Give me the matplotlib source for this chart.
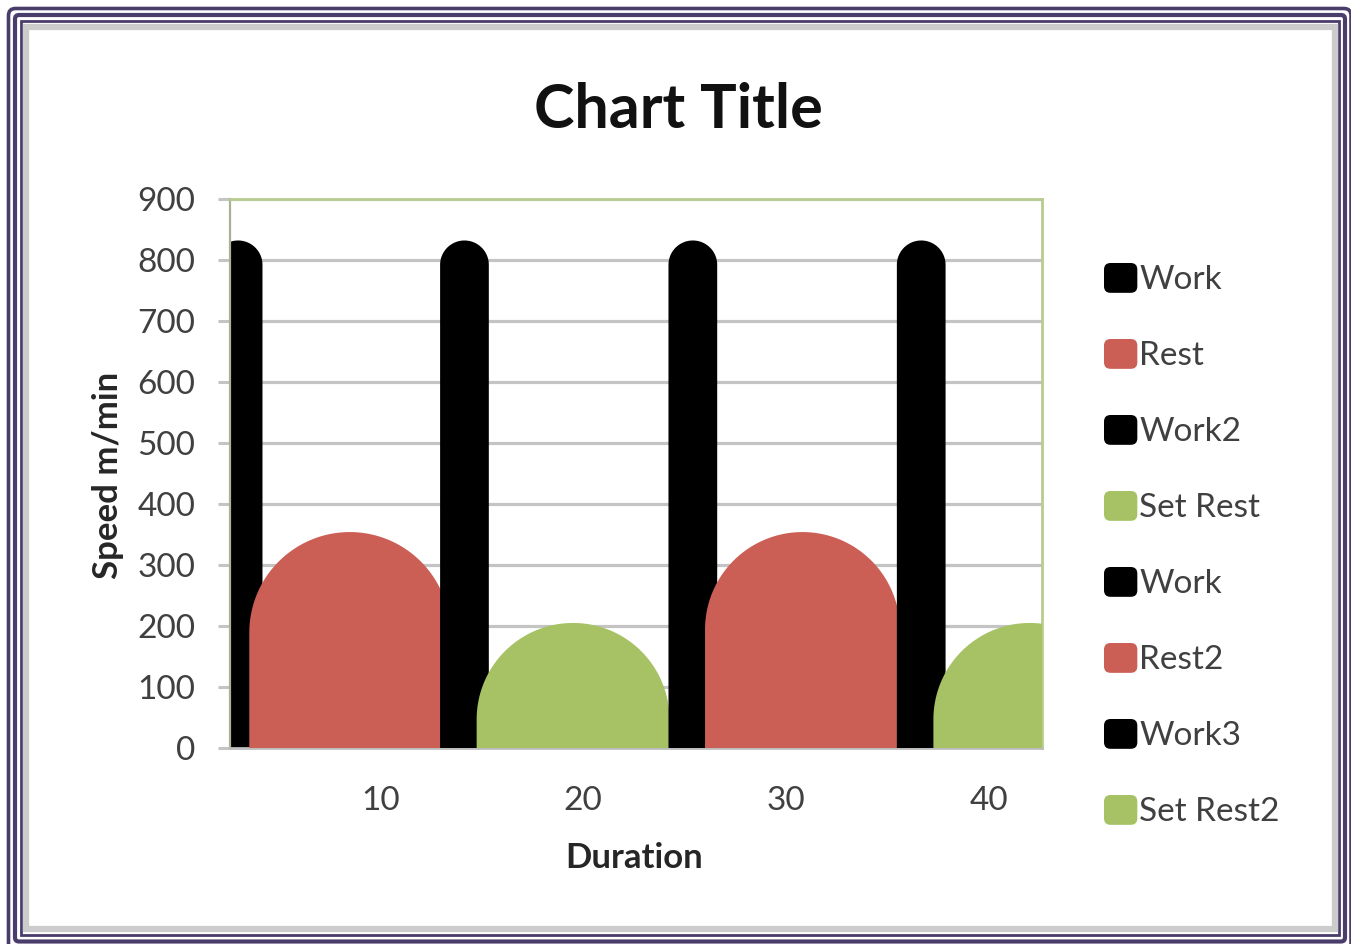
import numpy as np
import matplotlib
matplotlib.use("Agg")
import matplotlib.pyplot as plt
from matplotlib.patches import Patch, FancyBboxPatch, Rectangle
from matplotlib.legend_handler import HandlerPatch

# ---- data ----
series = ["Work", "Rest", "Work2", "Set Rest", "Work", "Rest2", "Work3", "Set Rest2"]
mid_time = [3.0, 8.5, 14.15, 19.5, 25.4, 30.8, 36.65, 42.0]
duration = [2.4, 9.9, 2.4, 9.5, 2.4, 9.6, 2.4, 9.5]
speed = [832, 354, 832, 205, 832, 354, 832, 205]
x_ticks = [10, 20, 30, 40]
y_ticks = [0, 100, 200, 300, 400, 500, 600, 700, 800, 900]

BLACK, RED, GREEN = "#000000", "#CB5E55", "#A6C264"
colors = [BLACK, RED, BLACK, GREEN, BLACK, RED, BLACK, GREEN]

FONT = ["Lato", "DejaVu Sans"]
plt.rcParams["font.family"] = FONT

W, H = 1351, 944
fig = plt.figure(figsize=(W / 100, H / 100), dpi=100)

# ---- background frame (pixel coordinates) ----
bg = fig.add_axes([0, 0, 1, 1], zorder=0)
bg.set_xlim(0, W)
bg.set_ylim(H, 0)
bg.axis("off")
PURPLE = "#4b3d6b"
bg.add_patch(FancyBboxPatch((8.5, 8.5), W - 8.5, H + 6 - 8.5,
                            boxstyle="round,pad=0,rounding_size=7",
                            fc="white", ec=PURPLE, lw=2.6))
bg.add_patch(FancyBboxPatch((15, 15), 1345 - 15, 941.5 - 15,
                            boxstyle="round,pad=0,rounding_size=4",
                            fc="white", ec=PURPLE, lw=3.0))
bg.add_patch(Rectangle((21, 21), 1338.5 - 21, 935 - 21, fc="white", ec=PURPLE, lw=2.0))
bg.add_patch(Rectangle((26, 26.5), 1334.5 - 26, 928.5 - 26.5, fc="white", ec="#cccccc", lw=4.5))

# ---- main axes ----
ax = fig.add_axes([230 / W, 1 - 748 / H, 812 / W, 549 / H], zorder=1)
ax.set_facecolor("white")
ax.set_xlim(2.6, 42.6)
ax.set_ylim(0, 900)

bbox = ax.get_window_extent()
sx = bbox.width / (42.6 - 2.6)
sy = bbox.height / 900.0

theta = np.linspace(0, np.pi, 90)
for i, (c, d, s, col) in enumerate(zip(mid_time, duration, speed, colors)):
    half = d / 2.0
    r_y = half * sx / sy
    base = s - r_y
    xs = np.concatenate([[c + half], c + half * np.cos(theta), [c - half]])
    ys = np.concatenate([[-100], base + r_y * np.sin(theta), [-100]])
    ax.fill(xs, ys, color=col, lw=0, zorder=2 + i)

ax.set_yticks(y_ticks)
ax.set_xticks(x_ticks)
ax.set_axisbelow(True)
ax.yaxis.grid(True, color="#c4c4c4", lw=2.3)
ax.xaxis.grid(False)

for side in ["top", "right"]:
    ax.spines[side].set_color("#b9cc90")
    ax.spines[side].set_linewidth(2.0)
ax.spines["left"].set_color("#a9b394")
ax.spines["left"].set_linewidth(1.6)
ax.spines["bottom"].set_color("#bdbdbd")
ax.spines["bottom"].set_linewidth(2.0)

ax.tick_params(axis="y", length=9, width=2.2, color="#c4c4c4", pad=16,
               labelsize=24, labelcolor="#404040")
ax.tick_params(axis="x", length=0, pad=27, labelsize=24, labelcolor="#404040")

# ---- texts ----
fig.text(678 / W, 1 - 110 / H, "Chart Title", ha="center", va="center",
         fontsize=44, fontweight="bold", color="#111111")
fig.text(108 / W, 1 - 475 / H, "Speed m/min", ha="center", va="center",
         rotation=90, fontsize=25, fontweight="bold", color="#262626")
fig.text(634 / W, 1 - 858 / H, "Duration", ha="center", va="center",
         fontsize=25, fontweight="bold", color="#262626")


# ---- legend ----
class RoundHandler(HandlerPatch):
    def create_artists(self, legend, orig_handle, xdescent, ydescent,
                       width, height, fontsize, trans):
        p = FancyBboxPatch((-xdescent, -ydescent), width, height,
                           boxstyle="round,pad=0,rounding_size=%f" % (height * 0.22),
                           fc=orig_handle.get_facecolor(), ec="none", transform=trans)
        return [p]


handles = [Patch(facecolor=col, edgecolor=col) for col in colors]
leg = fig.legend(handles, series, loc="upper left",
                 bbox_to_anchor=(1104 / W, 1 - 263 / H),
                 frameon=False, fontsize=24, labelcolor="#404040",
                 handlelength=1.0, handleheight=1.0, handletextpad=0.05,
                 labelspacing=1.31, borderaxespad=0, borderpad=0,
                 handler_map={Patch: RoundHandler()})

fig.savefig("out.png", dpi=100)
